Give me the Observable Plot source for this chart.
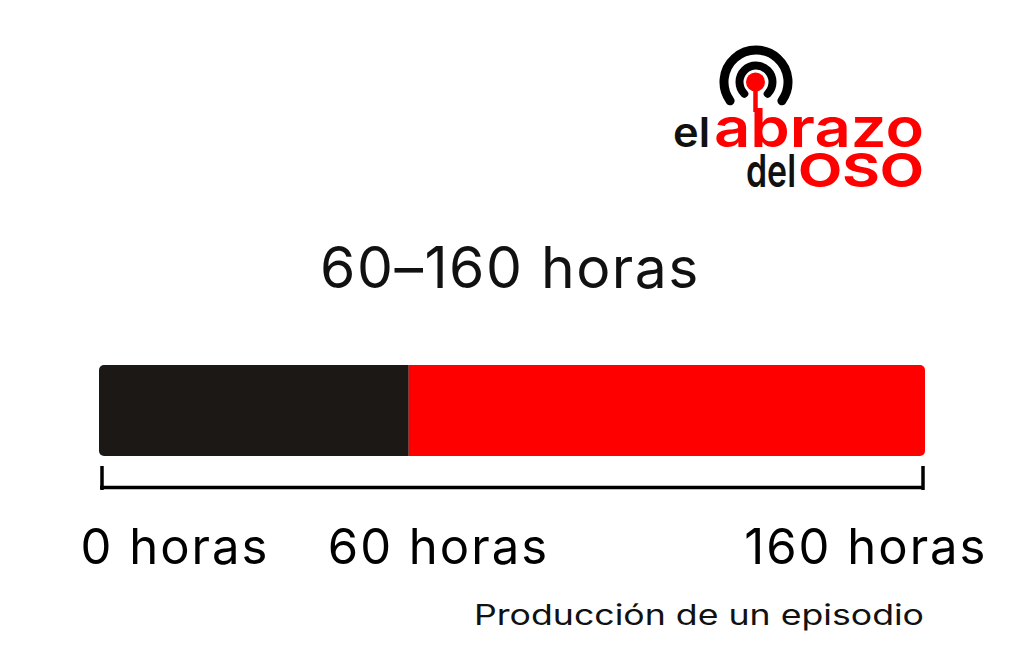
<!DOCTYPE html>
<html lang="es">
<head>
<meta charset="utf-8">
<script src="https://cdn.jsdelivr.net/npm/d3@7"></script>
<script src="https://cdn.jsdelivr.net/npm/@observablehq/plot@0.6"></script>
<style>
  html, body { margin: 0; padding: 0; background: #ffffff; }
  #page { position: relative; width: 1024px; height: 667px; overflow: hidden; background: #fff; font-family: Inter, "Noto Sans", sans-serif; }
  #logo { position: absolute; left: 0; top: 0; }
  #title { position: absolute; left: -2px; width: 1024px; top: 239px; text-align: center; font-size: 57px; line-height: 57px; font-weight: 400; letter-spacing: 1.5px; color: #111; white-space: nowrap; }
  #chart { position: absolute; left: 0; top: 340px; }
  #chart svg { overflow: visible; }
  #chart text { letter-spacing: 2px; }
  #caption { position: absolute; left: 0; top: 0; }
</style>
</head>
<body>
<div id="page">
  <svg id="logo" width="1024" height="220" viewBox="0 0 1024 220">
    <path d="M730.1,100.8 A32,32 0 1 1 781.9,100.8" fill="none" stroke="#000" stroke-width="9" stroke-linecap="round"/>
    <path d="M744.3,93.7 A16.5,16.5 0 1 1 767.7,93.7" fill="none" stroke="#000" stroke-width="8" stroke-linecap="round"/>
    <line x1="755.5" y1="82" x2="755.5" y2="112" stroke="#ff0000" stroke-width="4.5"/>
    <circle cx="755.5" cy="82" r="9.5" fill="#ff0000"/>
    <text font-family="Inter, sans-serif" lengthAdjust="spacingAndGlyphs"><tspan x="673" y="147" font-weight="600" font-size="41" fill="#111" textLength="37" lengthAdjust="spacingAndGlyphs">el</tspan><tspan x="714" y="147" font-weight="600" font-size="54" fill="#ff0000" textLength="210" lengthAdjust="spacingAndGlyphs">abrazo</tspan><tspan x="746" y="187" font-weight="600" font-size="45" fill="#111" textLength="50" lengthAdjust="spacingAndGlyphs">del</tspan><tspan x="798" y="187" font-weight="700" font-size="46" fill="#ff0000" textLength="126" lengthAdjust="spacingAndGlyphs">OSO</tspan></text>
  </svg>
  <div id="title"></div>
  <div id="chart"></div>
  <svg id="caption" width="1024" height="667" viewBox="0 0 1024 667" style="pointer-events:none">
    <text id="captionText" x="924" y="625" text-anchor="end" font-family="Inter, sans-serif" font-weight="400" font-size="28" fill="#111" textLength="450" lengthAdjust="spacingAndGlyphs"></text>
  </svg>
</div>
<script>
// ---- data ----
const titleText = "60–160 horas";
const captionText = "Producción de un episodio";
const categories = ["Producción de un episodio"];
const segmentNames = ["Mínimo", "Rango adicional"];
const segmentStart = [0, 60];
const segmentEnd = [60, 160];
const tickValues = [0, 60, 160];
const tickLabels = ["0 horas", "60 horas", "160 horas"];

// ---- tables ----
const segments = segmentNames.map((name, i) => ({row: categories[0], name, start: segmentStart[i], end: segmentEnd[i]}));
const ticks = tickValues.map((v, i) => ({row: categories[0], value: v, label: tickLabels[i]}));
const first = ticks[0], mid = ticks[1], last = ticks[ticks.length - 1];

document.getElementById("title").textContent = titleText;
document.getElementById("captionText").textContent = captionText;

const chart = Plot.plot({
  width: 1024,
  height: 250,
  marginLeft: 99,
  marginRight: 99,
  marginTop: 25,
  marginBottom: 134,
  x: {domain: [tickValues[0], tickValues[tickValues.length - 1]], axis: null},
  y: {domain: categories, axis: null, padding: 0},
  color: {domain: segmentNames, range: ["#1b1816", "#ff0000"]},
  style: {fontFamily: "Inter, sans-serif", background: "transparent", overflow: "visible"},
  marks: [
    Plot.barX(segments.filter(d => d.name === segmentNames[0]), {x1: "start", x2: "end", y: "row", fill: "name", rx1: 5}),
    Plot.barX(segments.filter(d => d.name === segmentNames[1]), {x1: "start", x2: "end", y: "row", fill: "name", rx2: 5}),
    // bracket baseline
    Plot.ruleY(categories, {y: d => d, x1: () => first.value, x2: () => last.value, dy: 76.5, insetLeft: 1, insetRight: 1, stroke: "#000", strokeWidth: 3.5}),
    // bracket ends
    Plot.tickX([first], {x: "value", y: "row", dx: 2.5, dy: 101, insetBottom: 67, stroke: "#000", strokeWidth: 3.5}),
    Plot.tickX([last], {x: "value", y: "row", dx: -2.5, dy: 101, insetBottom: 67, stroke: "#000", strokeWidth: 3.5}),
    // labels
    Plot.text([first], {x: "value", y: "row", text: "label", textAnchor: "start", lineAnchor: "bottom", dx: -19, dy: 153, fontSize: 49, fill: "#000"}),
    Plot.text([mid], {x: "value", y: "row", text: "label", textAnchor: "start", lineAnchor: "bottom", dx: -81.5, dy: 153, fontSize: 49, fill: "#000"}),
    Plot.text([last], {x: "value", y: "row", text: "label", textAnchor: "end", lineAnchor: "bottom", dx: 62, dy: 153, fontSize: 49, fill: "#000"})
  ]
});
document.getElementById("chart").appendChild(chart);
</script>
</body>
</html>
